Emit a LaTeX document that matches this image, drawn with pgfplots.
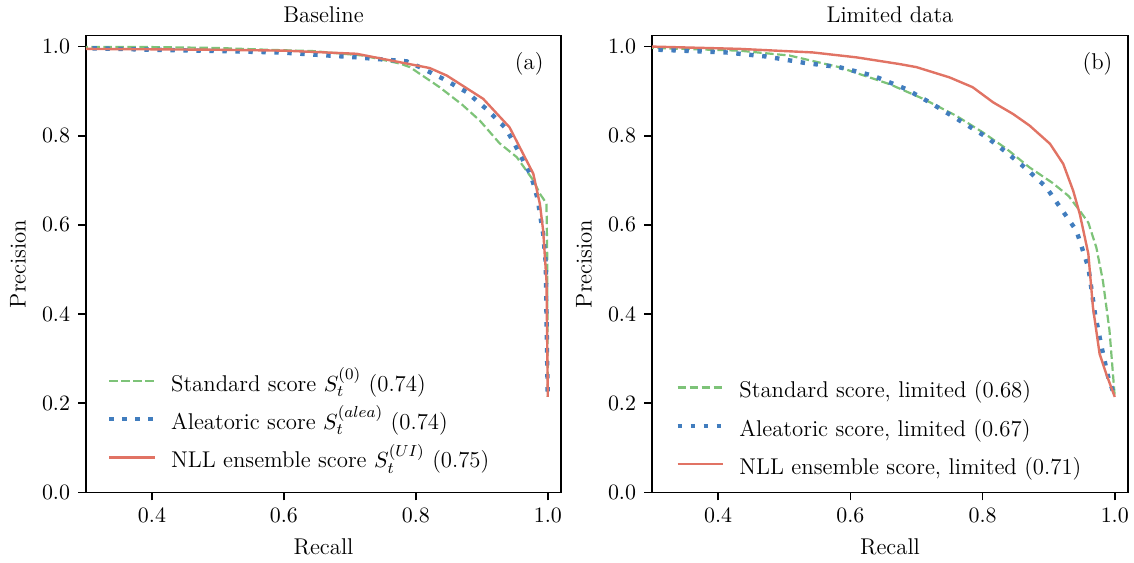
\documentclass[border=0pt]{standalone}
\usepackage{pgfplots}
\pgfplotsset{compat=1.18}

\definecolor{cgreen}{RGB}{125,195,120}
\definecolor{cblue}{RGB}{65,125,190}
\definecolor{cred}{RGB}{225,115,100}

\pgfplotsset{
  prpanel/.style={
    scale only axis, width=237.5pt, height=228.4pt,
    xmin=0.3, xmax=1.02, ymin=0, ymax=1.025,
    xtick={0.4,0.6,0.8,1.0},
    ytick={0,0.2,0.4,0.6,0.8,1.0},
    tick pos=left, tick align=outside,
    major tick length=4pt,
    every tick/.style={black, line width=0.8pt},
    axis line style={line width=0.8pt},
    xticklabel style={/pgf/number format/.cd, fixed, fixed zerofill, precision=1},
    yticklabel style={/pgf/number format/.cd, fixed, fixed zerofill, precision=1},
    xlabel=Recall, ylabel=Precision,
    xlabel style={at={(axis description cs:0.5,-0.1357)}, anchor=base},
    ylabel style={at={(axis description cs:-0.143,0.5)}, anchor=center},
    every axis title shift=0pt,
    title style={at={(axis description cs:0.5,1.0276)}, anchor=base},
    legend cell align=left,
    legend image code/.code={\draw[#1] (0pt,2.7pt) -- (22.8pt,2.7pt);},
    legend style={draw=none, fill=none, inner sep=0pt, anchor=south west,
      row sep=0pt, column sep=0pt,
      nodes={inner sep=0pt, text height=12pt, text depth=7.15pt}},
    /tikz/every odd column/.append style={column sep=7pt},
  },
  sgreen/.style={cgreen, line width=1.1pt, dash pattern=on 4.2pt off 1.8pt, line join=round},
  sblue/.style={cblue, line width=2.2pt, dash pattern=on 2.2pt off 4.3pt},
  sred/.style={cred, line width=1.2pt, line join=round},
}

\begin{document}
\fontsize{11.4}{13.7}\selectfont
\begin{tikzpicture}
\useasboundingbox (-43pt,-34.85pt) rectangle (524pt,246.15pt);

% (a) baseline
\begin{axis}[prpanel, title={Baseline},
  legend style={at={(axis description cs:0.0436,0.0215)}}]
\addplot[sgreen] coordinates {
  (0.29,0.999)(0.40,0.999)(0.50,0.997)(0.574,0.993)(0.644,0.990)(0.72,0.980)
  (0.776,0.962)(0.791,0.954)(0.836,0.909)(0.87,0.870)(0.897,0.834)(0.927,0.783)
  (0.953,0.752)(0.978,0.700)(0.988,0.670)(0.998,0.648)(0.999,0.545)(1.0,0.214)};
\addplot[sblue] coordinates {
  (0.29,0.997)(0.40,0.993)(0.50,0.990)(0.594,0.987)(0.710,0.976)(0.786,0.967)
  (0.806,0.954)(0.841,0.928)(0.877,0.898)(0.907,0.860)(0.935,0.819)(0.947,0.789)
  (0.973,0.715)(0.980,0.685)(0.985,0.655)(0.988,0.625)(0.993,0.580)(0.997,0.513)
  (0.998,0.401)(0.999,0.300)(1.0,0.214)};
\addplot[sred] coordinates {
  (0.29,0.995)(0.40,0.994)(0.50,0.993)(0.60,0.991)(0.710,0.984)(0.821,0.952)
  (0.847,0.935)(0.902,0.883)(0.942,0.819)(0.978,0.715)(0.988,0.647)(0.993,0.587)
  (0.998,0.475)(0.999,0.350)(1.0,0.214)};
\legend{Standard score $S_t^{(0)}$ (0.74),
        Aleatoric score $S_t^{(alea)}$ (0.74),
        NLL ensemble score $S_t^{(UI)}$ (0.75)}
\node at (axis description cs:0.933,0.9376) {(a)};
\end{axis}

% (b) limited data
\begin{axis}[prpanel, at={(283pt,0pt)}, width=238pt, title={Limited data},
  legend style={at={(axis description cs:0.0484,0.0072)}}]
\addplot[sgreen] coordinates {
  (0.29,0.998)(0.303,0.997)(0.432,0.991)(0.508,0.980)(0.583,0.954)(0.659,0.916)
  (0.710,0.883)(0.760,0.845)(0.800,0.808)(0.836,0.771)(0.871,0.729)(0.906,0.694)
  (0.930,0.665)(0.947,0.632)(0.960,0.605)(0.972,0.550)(0.982,0.475)(0.992,0.363)
  (0.997,0.270)(1.0,0.214)};
\addplot[sblue] coordinates {
  (0.29,0.993)(0.311,0.993)(0.412,0.987)(0.472,0.978)(0.533,0.963)(0.583,0.954)
  (0.634,0.935)(0.684,0.905)(0.720,0.875)(0.770,0.830)(0.806,0.797)(0.836,0.763)
  (0.866,0.726)(0.896,0.685)(0.919,0.636)(0.942,0.587)(0.960,0.505)(0.970,0.401)
  (0.980,0.326)(0.990,0.259)(1.0,0.214)};
\addplot[sred] coordinates {
  (0.29,1.0)(0.303,1.0)(0.432,0.995)(0.543,0.987)(0.609,0.976)(0.674,0.961)
  (0.700,0.954)(0.750,0.931)(0.785,0.909)(0.816,0.875)(0.846,0.849)(0.871,0.823)
  (0.902,0.782)(0.922,0.737)(0.937,0.677)(0.947,0.625)(0.960,0.535)(0.967,0.415)
  (0.977,0.311)(0.987,0.266)(1.0,0.214)};
\legend{{Standard score, limited (0.68)},
        {Aleatoric score, limited (0.67)},
        {NLL ensemble score, limited (0.71)}}
\node at (axis description cs:0.936,0.9376) {(b)};
\end{axis}
\end{tikzpicture}
\end{document}
